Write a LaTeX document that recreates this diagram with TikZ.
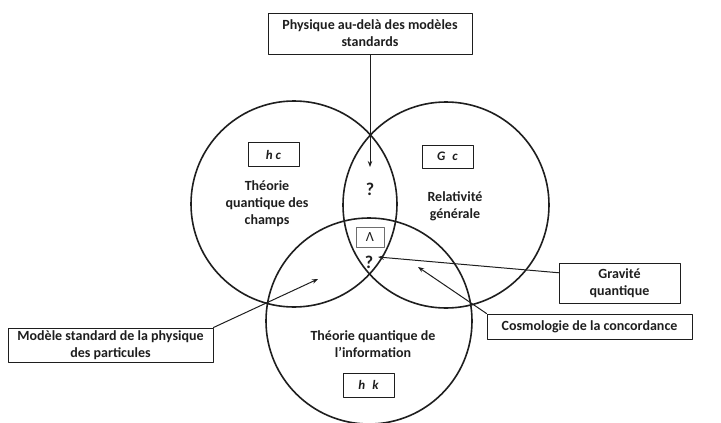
\documentclass[tikz,border=0pt]{standalone}
\usepackage{fontspec}
\setmainfont{Carlito}
\usetikzlibrary{arrows.meta,calc,positioning}
\definecolor{vennink}{RGB}{30,30,30}
\definecolor{vennbox}{RGB}{110,110,110}

\begin{document}
\begin{tikzpicture}[x=1pt,y=-1pt,>={Stealth[length=6pt,width=4.5pt]},line cap=round,line join=round,
  txt/.style={font=\fontsize{14}{17}\selectfont\bfseries,text=vennink,align=center},
  labelbox/.style={txt,draw=vennink,line width=1pt,inner sep=0pt},
  constbox/.style={draw=vennink,line width=0.9pt,inner sep=0pt,minimum width=51pt,minimum height=24pt,
    font=\fontsize{13}{15}\selectfont\bfseries\itshape,text=vennink},
  link/.style={->,vennink,line width=1pt}]
 \useasboundingbox (0,0) rectangle (721,423);
 \coordinate (qft) at (294,204); \coordinate (rg) at (446,205);
 \coordinate (qi) at (369,321);
 \foreach \c in {qft,rg,qi}{\draw[vennink,line width=1.6pt] (\c) circle[radius=103pt];}
 % cadres
 \node[labelbox,minimum width=204pt,minimum height=41pt] (beyond) at (370,33.5)
  {Physique au-delà des modèles\\standards};
 \node[labelbox,minimum width=205pt,minimum height=34pt] (sm) at (110.5,345)
  {Modèle standard de la physique\\des particules};
 \node[labelbox,minimum width=121pt,minimum height=40pt] (grav) at (619.5,283)
  {Gravité\\quantique};
 \node[labelbox,minimum width=205pt,minimum height=25pt] (cosmo) at (589.5,326.5)
  {Cosmologie de la concordance};
 % constantes
 \node[constbox] (hc) at (273.5,154.5) {h c};
 \node[constbox,minimum height=23pt] (gc) at (447.5,156.5) {G\hspace{7pt}c};
 \node[constbox] (hk) at (368.5,385) {h\hspace{7pt}k};
 \node[constbox,draw=vennbox,minimum width=28pt,minimum height=20pt,font=\fontsize{14}{15}\selectfont]
  (lambda) at (370,237) {Λ};
 % textes
 \node[txt] (qfttxt) at (267,204) {Théorie\\quantique des\\champs};
 \node[txt] (rgtxt) at (455,206.5) {Relativité\\générale};
 \node[txt] (qitxt) at (373,344) {Théorie quantique de\\l’information};
 \node[txt,font=\fontsize{18}{18}\selectfont\bfseries] (qtop) at (370,189) {?};
 \node[txt,font=\fontsize{18}{18}\selectfont\bfseries] (qbot) at (369,262) {?};
 % fleches
 \coordinate (toptip) at (370,167);
 \coordinate (gravtip) at (378,257);
 \coordinate (smtip) at (318,279);
 \coordinate (cosmotip) at (418,267);
 \draw[link] (beyond.south) -- (toptip);
 \draw[link] ($(grav.north west)!0.25!(grav.south west)$) -- (gravtip);
 \draw[link] (cosmo.north west) -- (cosmotip);
 \draw[link] (sm.north east) -- (smtip);
\end{tikzpicture}
\end{document}
